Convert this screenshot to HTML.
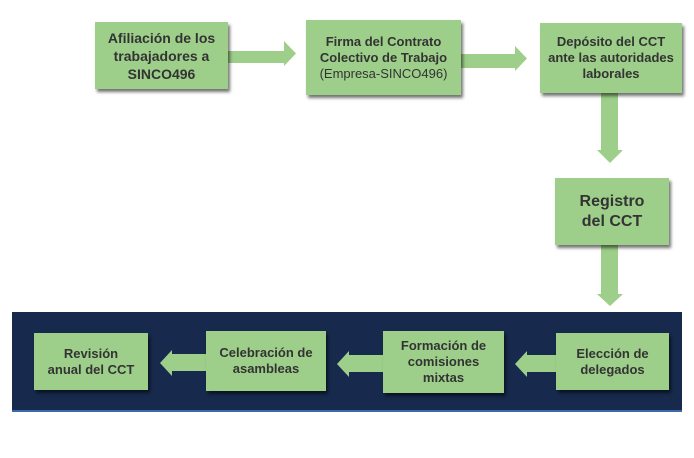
<!DOCTYPE html>
<html><head><meta charset="utf-8"><style>
body{margin:0;width:694px;height:458px;background:#fff;position:relative;overflow:hidden;font-family:"Liberation Sans",Arial,sans-serif}
.b{position:absolute;background:#9dcf8a;box-shadow:2px 3px 3px rgba(0,0,0,.55);display:flex;align-items:center;justify-content:center;text-align:center;color:#333;font-weight:bold;font-size:13px;line-height:16px}
.n{font-weight:normal}
svg{position:absolute;left:0;top:0}
</style></head><body>
<div style="position:absolute;left:12px;top:312px;width:670px;height:98px;background:#172a4d"></div>
<div style="position:absolute;left:12px;top:410px;width:670px;height:2px;background:#3c6aa8"></div>
<svg width="694" height="458">
<g fill="#9dcf8a">
<polygon points="228,51 284,51 284,41 296,53.5 284,66 284,63 228,63"/>
<polygon points="461,54 515,54 515,46 527,58.5 515,71 515,68 461,68"/>
<polygon points="601,93 618,93 618,150 623,150 610,163 597,150 601,150"/>
<polygon points="601,245 618,245 618,294 623,294 610,306 597,294 601,294"/>
<polygon points="206,354 172,354 172,350 160,363 172,376 172,371 206,371"/>
<polygon points="383,355 349,355 349,351 337,364 349,377 349,372 383,372"/>
<polygon points="556,355 527,355 527,351 515,364 527,377 527,372 556,372"/>
</g></svg>
<div class="b" style="left:95px;top:22px;width:133px;height:67px;font-size:14px;line-height:18px"><div>Afiliación de los<br>trabajadores a<br>SINCO496</div></div>
<div class="b" style="left:306px;top:20px;width:155px;height:75px"><div>Firma del Contrato<br>Colectivo de Trabajo<br><span class="n">(Empresa-SINCO496)</span></div></div>
<div class="b" style="left:540px;top:23px;width:142px;height:70px"><div>Depósito del CCT<br>ante las autoridades<br>laborales</div></div>
<div class="b" style="left:555px;top:178px;width:114px;height:67px;font-size:16px;line-height:20px"><div>Registro<br>del CCT</div></div>
<div class="b" style="left:34px;top:333px;width:114px;height:57px"><div>Revisión<br>anual del CCT</div></div>
<div class="b" style="left:206px;top:331px;width:120px;height:60px"><div>Celebración de<br>asambleas</div></div>
<div class="b" style="left:383px;top:331px;width:121px;height:62px"><div>Formación de<br>comisiones<br>mixtas</div></div>
<div class="b" style="left:556px;top:333px;width:113px;height:57px"><div>Elección de<br>delegados</div></div>
</body></html>
